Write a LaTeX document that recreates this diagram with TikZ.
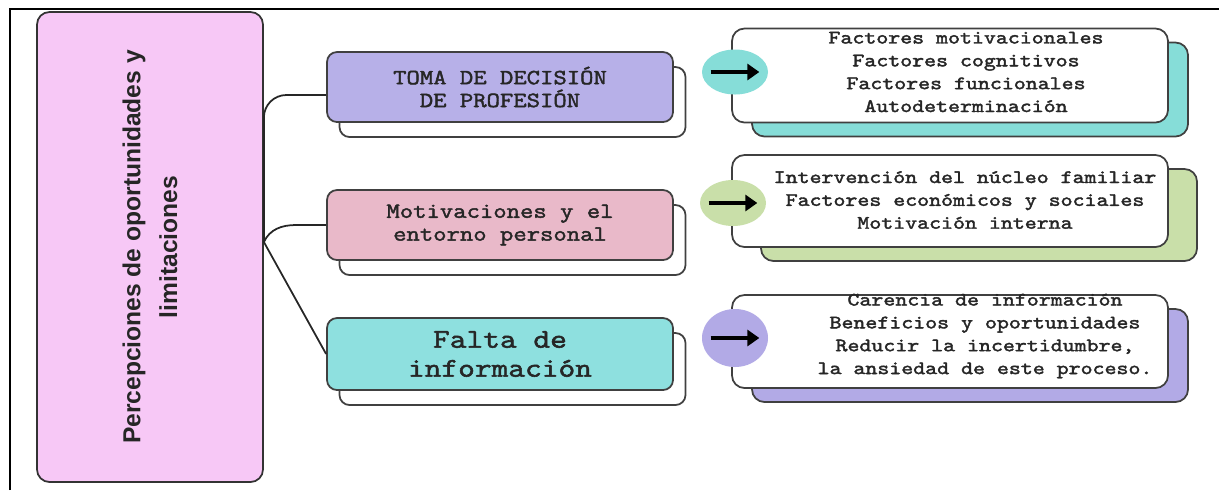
\documentclass[tikz,border=0pt]{standalone}
\usepackage{fontspec}
\usepackage{tikz}
\usetikzlibrary{positioning, shapes.geometric, arrows.meta, shadows}
\newfontfamily\boxfont{Latin Modern Mono}[FakeStretch=1.2, FakeBold=2]
\newfontfamily\rootfont{Liberation Sans}
\definecolor{rootpink}{HTML}{F7C8F6}
\definecolor{decpurple}{HTML}{B7B0E8}
\definecolor{motpink}{HTML}{E9B9C9}
\definecolor{faltacyan}{HTML}{8EE0DF}
\definecolor{tealshade}{HTML}{86DDD8}
\definecolor{greenshade}{HTML}{C9DFA9}
\definecolor{purpleshade}{HTML}{B2AAE6}

\begin{document}
\begin{tikzpicture}[
    rootbox/.style={draw=black!80, line width=1pt, fill=rootpink, rounded corners=0.25cm,
      rotate=90, minimum width=9.4cm, minimum height=4.52cm, align=center,
      text=black!85, font=\rootfont\bfseries\fontsize{14}{21}\selectfont},
    midbox/.style={draw=black!75, line width=1pt, fill=#1, rounded corners=0.2cm,
      minimum width=6.92cm, minimum height=1.4cm, align=center, text=black!85,
      font=\boxfont\fontsize{12.3}{13}\selectfont,
      copy shadow={fill=white, draw=black!75, line width=1pt, shadow xshift=0.25cm, shadow yshift=-0.3cm}},
    sidebox/.style 2 args={draw=black!75, line width=1pt, fill=white, rounded corners=0.25cm,
      minimum width=8.72cm, minimum height=1.88cm,
      copy shadow={fill=#1, draw=black!75, line width=1pt, shadow xshift=#2, shadow yshift=-0.28cm}},
    sidetext/.style={align=center, inner sep=0pt, text=black!85,
      font=\boxfont\fontsize{10.8}{13}\selectfont},
    bullet/.style={ellipse, fill=#1, minimum width=1.32cm, inner sep=0pt},
    link/.style={line width=1pt, black!85},
    arr/.style={line width=2.2pt, -{Triangle[length=0.24cm, width=0.32cm]}}
  ]
  \useasboundingbox (0,0) rectangle (24.38,-9.8);
  \draw[line width=1pt] (0.2,-9.8) -- (0.2,-0.18) -- (24.38,-0.18);

  % main topic
  \node (root) [rootbox] at (3.0,-4.94) {Percepciones de oportunidades y\\limitaciones};

  % branches
  \node (dec) [midbox=decpurple] at (10.0,-1.74) {TOMA DE DECISIÓN\\DE PROFESIÓN};
  \node (mot) [midbox=motpink] at (10.0,-4.5) {Motivaciones y el\\entorno personal};
  \node (falta) [midbox=faltacyan, minimum height=1.44cm,
    font=\boxfont\fontsize{15.4}{16.5}\selectfont] at (10.0,-7.08) {Falta de\\información};

  % details
  \node (r1) [sidebox={tealshade}{0.4cm}] at (19.0,-1.51) {};
  \node (r2) [sidebox={greenshade}{0.58cm}, minimum height=1.84cm] at (19.0,-4.02) {};
  \node (r3) [sidebox={purpleshade}{0.4cm}, minimum height=1.86cm] at (19.0,-6.83) {};

  \node (t1) [sidetext] at ([xshift=0.32cm, yshift=0.07cm]r1.center)
    {Factores motivacionales\\Factores cognitivos\\Factores funcionales\\Autodeterminación};
  \node (t2) [sidetext] at ([xshift=0.3cm, yshift=0.02cm]r2.center)
    {Intervención del núcleo familiar\\Factores económicos y sociales\\Motivación interna};
  \node (t3) [sidetext] at ([xshift=0.7cm, yshift=0.11cm]r3.center)
    {Carencia de información\\Beneficios y oportunidades\\Reducir la incertidumbre,\\la ansiedad de este proceso.};

  \node (c1) [bullet=tealshade, minimum height=0.9cm] at (14.7,-1.44) {};
  \node (c2) [bullet=greenshade, minimum height=0.92cm] at (14.66,-4.06) {};
  \node (c3) [bullet=purpleshade, minimum height=1.16cm] at (14.7,-6.76) {};

  \draw[arr] ([xshift=0.18cm]c1.west) -- ([xshift=-0.18cm]c1.east);
  \draw[arr] ([xshift=0.18cm]c2.west) -- ([xshift=-0.18cm]c2.east);
  \draw[arr] ([xshift=0.18cm]c3.west) -- ([xshift=-0.18cm]c3.east);

  % connectors
  \coordinate (hub) at ([yshift=0.1cm]root.south);
  \draw[link, rounded corners=0.45cm] (hub) |- ([yshift=-0.16cm]dec.west);
  \draw[link] (hub) to[out=65, in=180] ([xshift=-0.6cm]mot.west) -- (mot.west);
  \draw[link] (hub) -- (falta.west);
\end{tikzpicture}
\end{document}
